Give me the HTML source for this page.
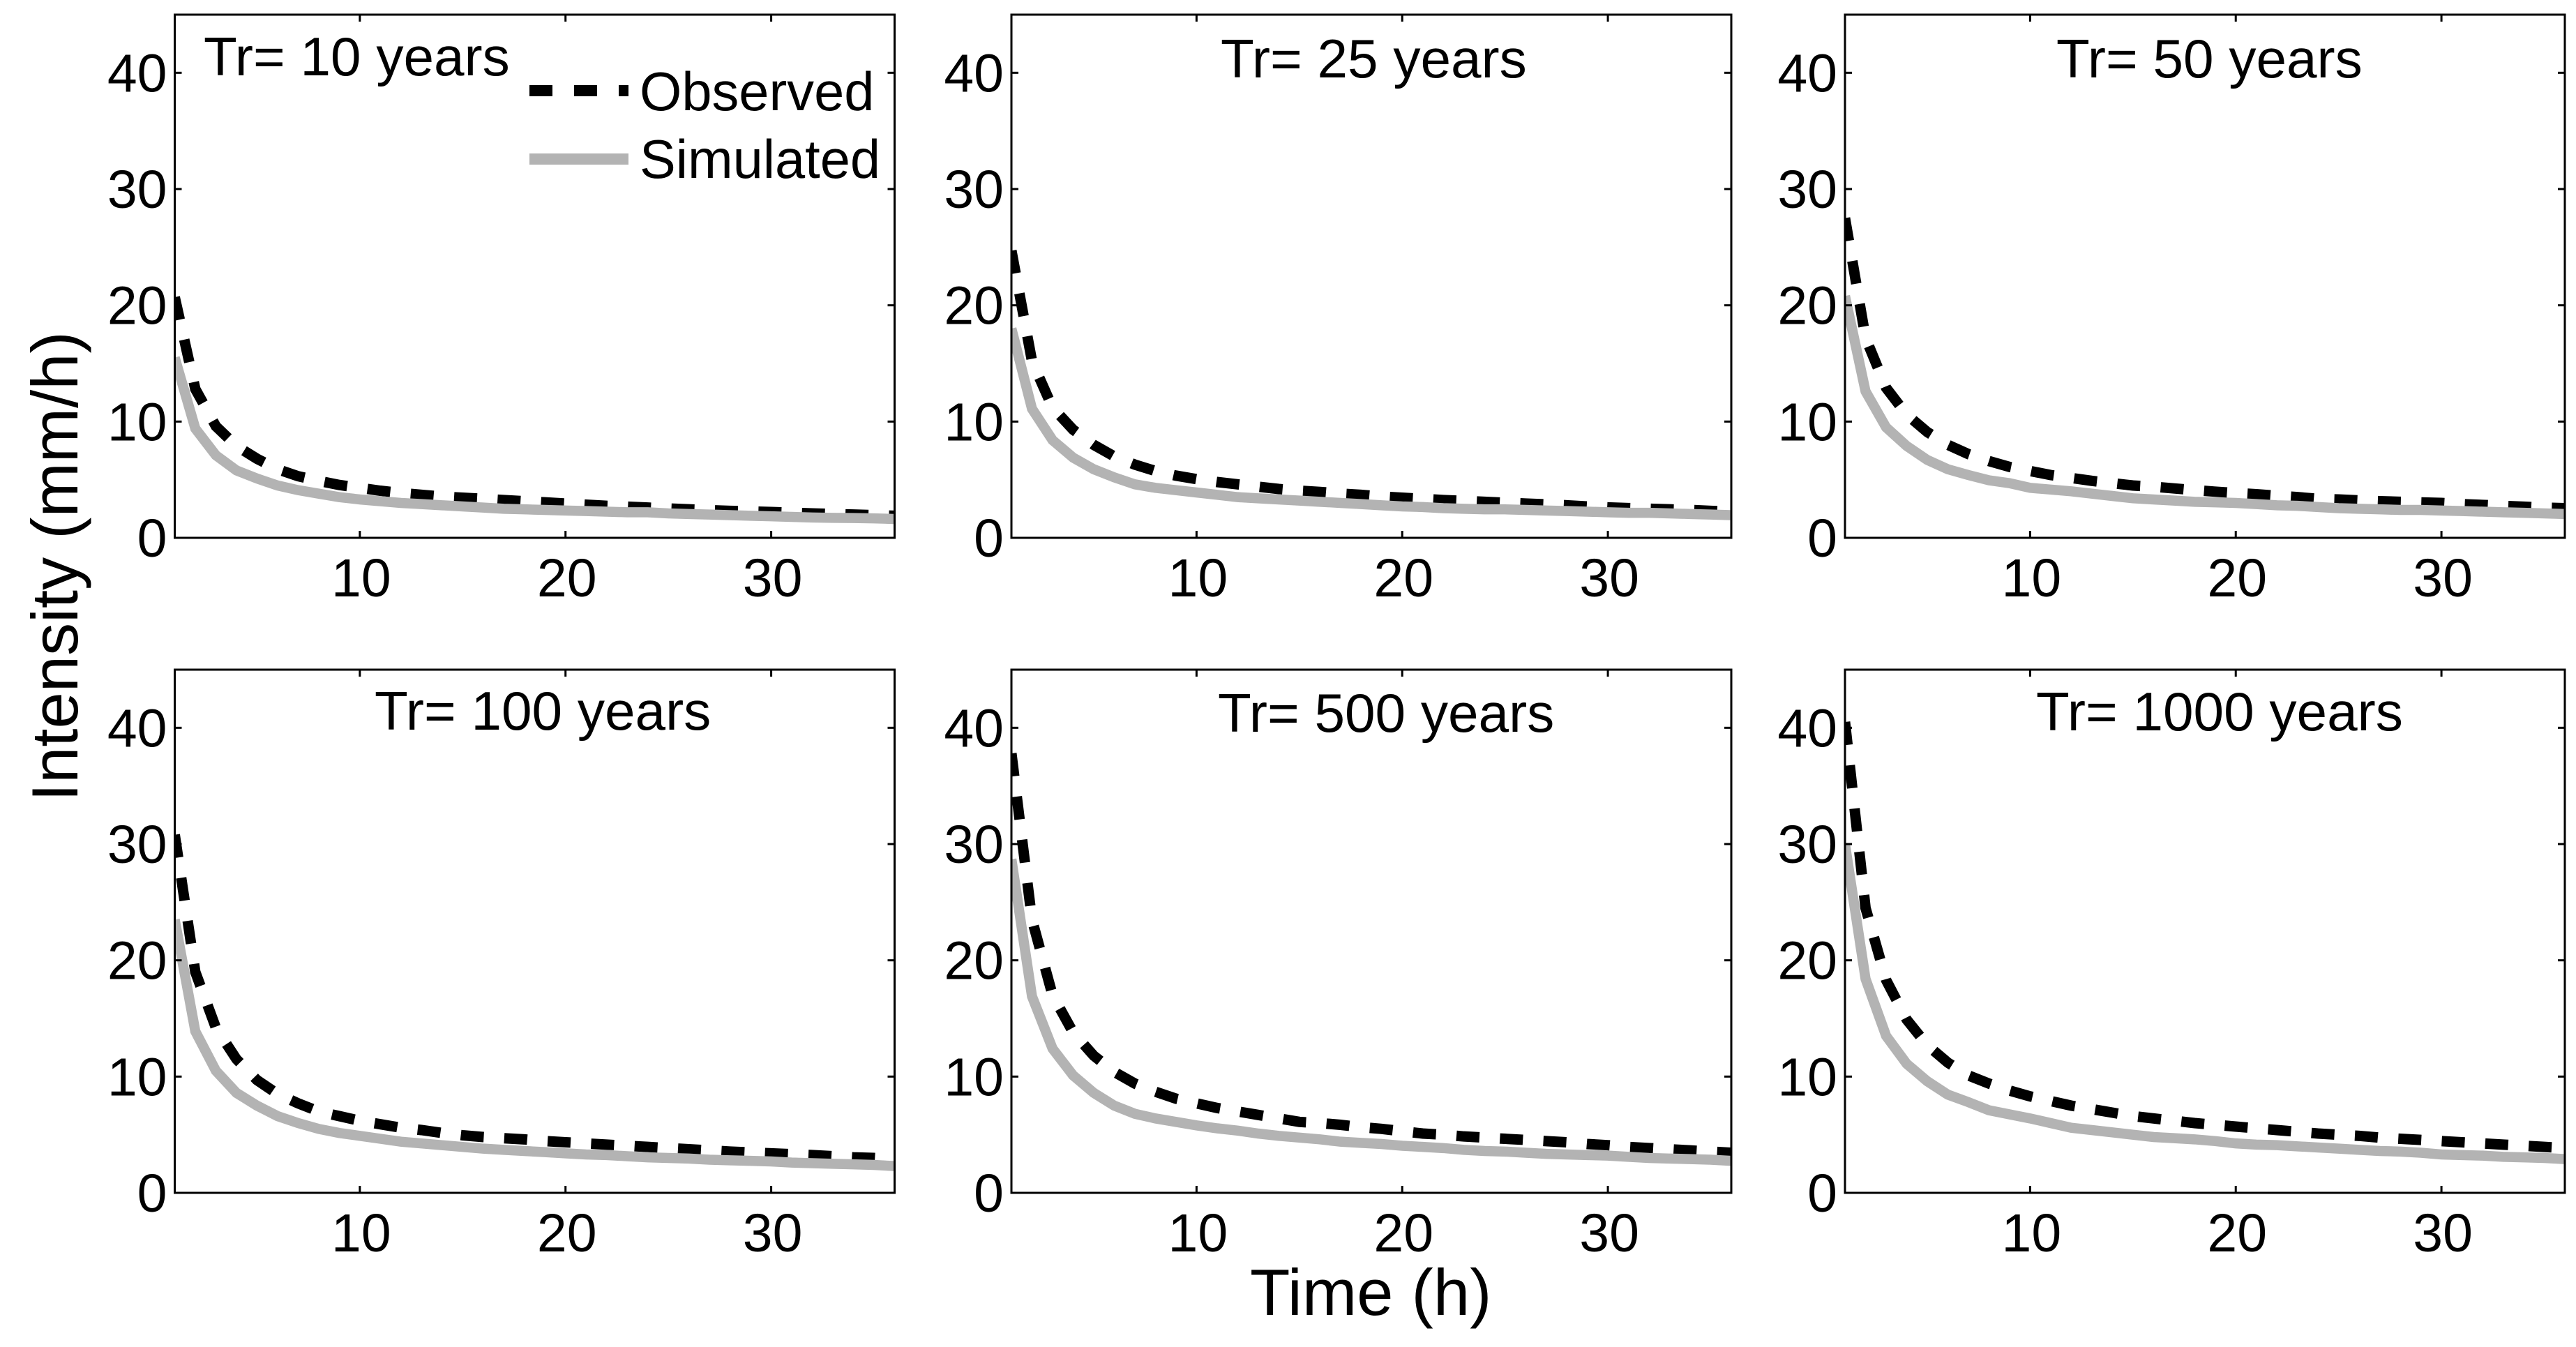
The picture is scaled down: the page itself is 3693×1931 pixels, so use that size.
<!DOCTYPE html>
<html lang="en">
<head>
<meta charset="utf-8">
<title>Observed and simulated rainfall intensity by return period</title>
<style>
html,body{margin:0;padding:0;background:#fff;}
svg{display:block;}
text{font-family:"Liberation Sans",Arial,sans-serif;fill:#000;}
.tick-label{font-size:77px;}
.panel-title{font-size:78.3px;}
.legend-label{font-size:77.6px;}
.axis-title{font-size:94px;}
</style>
</head>
<body>
<svg id="figure" xmlns="http://www.w3.org/2000/svg" width="3693" height="1931" viewBox="0 0 3693 1931">
  <rect x="0" y="0" width="3693" height="1931" fill="#ffffff"/>
  <defs>
    <clipPath id="plot-clip"><rect x="0" y="0" width="1032" height="750"/></clipPath>
  </defs>

  <g id="panel-tr10" transform="translate(250.5,21)"></g>
  <g id="panel-tr25" transform="translate(1450,21)"></g>
  <g id="panel-tr50" transform="translate(2645,21)"></g>
  <g id="panel-tr100" transform="translate(250.5,960)"></g>
  <g id="panel-tr500" transform="translate(1450,960)"></g>
  <g id="panel-tr1000" transform="translate(2645,960)"></g>

  <text class="panel-title" x="292" y="108">Tr= 10 years</text>
  <text class="panel-title" x="1750" y="111">Tr= 25 years</text>
  <text class="panel-title" x="2948" y="111">Tr= 50 years</text>
  <text class="panel-title" x="537" y="1046">Tr= 100 years</text>
  <text class="panel-title" x="1746" y="1049">Tr= 500 years</text>
  <text class="panel-title" x="2919" y="1047">Tr= 1000 years</text>

  <g>
    <line x1="759" x2="901" y1="130" y2="130" stroke="#000" stroke-width="16" stroke-dasharray="33 31"/>
    <text class="legend-label" x="917" y="158">Observed</text>
    <line x1="759" x2="901" y1="228" y2="228" stroke="#b3b3b3" stroke-width="16"/>
    <text class="legend-label" x="917" y="255">Simulated</text>
  </g>

  <text class="axis-title" transform="translate(111,1149) rotate(-90)">Intensity (mm/h)</text>
  <text class="axis-title" x="1792" y="1885">Time (h)</text>
</svg>

<script>
// Shared axis values
const timeHours = [1,2,3,4,5,6,7,8,9,10,11,12,13,14,15,16,17,18,19,20,21,22,23,24,25,26,27,28,29,30,31,32,33,34,35,36];
const xTickLabels = [10,20,30];
const yTickLabels = [0,10,20,30,40];

// Tr = 10 years
const observedTr10 = [20.7,12.8,9.6,7.9,6.8,5.9,5.3,4.9,4.55,4.3,4.05,3.85,3.7,3.55,3.45,3.35,3.25,3.15,3.05,2.95,2.85,2.75,2.68,2.6,2.52,2.45,2.38,2.32,2.27,2.22,2.16,2.1,2.05,2.0,1.95,1.9];
const simulatedTr10 = [15.5,9.4,7.1,5.8,5.1,4.5,4.1,3.8,3.5,3.3,3.15,3.0,2.9,2.8,2.7,2.6,2.5,2.45,2.4,2.35,2.3,2.25,2.2,2.2,2.1,2.05,2.0,1.95,1.9,1.85,1.8,1.75,1.72,1.7,1.67,1.62];

// Tr = 25 years
const observedTr25 = [24.7,15.2,11.2,9.3,8.0,7.0,6.3,5.75,5.35,5.05,4.8,4.6,4.4,4.2,4.05,3.95,3.8,3.7,3.55,3.45,3.35,3.25,3.18,3.1,3.02,2.95,2.88,2.8,2.7,2.62,2.56,2.5,2.45,2.4,2.32,2.25];
const simulatedTr25 = [18.0,11.1,8.4,6.9,5.9,5.2,4.6,4.3,4.1,3.9,3.7,3.5,3.4,3.3,3.2,3.1,3.0,2.9,2.8,2.7,2.65,2.55,2.5,2.45,2.45,2.4,2.35,2.3,2.25,2.2,2.15,2.15,2.1,2.05,2.0,1.95];

// Tr = 50 years
const observedTr50 = [27.5,17.2,12.9,10.6,9.1,8.0,7.2,6.6,6.1,5.75,5.4,5.15,4.9,4.7,4.5,4.4,4.25,4.1,3.97,3.85,3.75,3.62,3.5,3.35,3.3,3.22,3.15,3.1,3.05,3.0,2.9,2.83,2.75,2.68,2.6,2.55];
const simulatedTr50 = [20.8,12.6,9.5,7.9,6.7,5.9,5.4,4.95,4.7,4.3,4.15,4.0,3.8,3.6,3.4,3.3,3.2,3.1,3.05,3.0,2.9,2.8,2.75,2.65,2.55,2.5,2.45,2.4,2.4,2.35,2.3,2.25,2.2,2.15,2.1,2.05];

// Tr = 100 years
const observedTr100 = [30.8,19.0,14.2,11.5,9.7,8.5,7.7,7.0,6.6,6.2,5.9,5.6,5.4,5.15,4.95,4.8,4.7,4.6,4.45,4.35,4.25,4.15,4.05,3.95,3.85,3.75,3.65,3.55,3.47,3.4,3.32,3.25,3.15,3.05,3.0,2.9];
const simulatedTr100 = [23.5,13.9,10.5,8.6,7.5,6.6,6.0,5.5,5.15,4.9,4.65,4.4,4.25,4.1,3.95,3.8,3.7,3.6,3.5,3.4,3.3,3.25,3.15,3.05,3.0,2.95,2.85,2.8,2.75,2.7,2.6,2.55,2.5,2.45,2.4,2.3];

// Tr = 500 years
const observedTr500 = [37.8,23.5,17.0,13.8,11.8,10.4,9.4,8.7,8.1,7.7,7.3,7.0,6.7,6.4,6.1,6.0,5.85,5.65,5.5,5.3,5.1,5.0,4.85,4.75,4.65,4.55,4.45,4.35,4.2,4.1,3.95,3.85,3.75,3.65,3.55,3.45];
const simulatedTr500 = [28.7,16.9,12.4,10.1,8.6,7.5,6.8,6.4,6.1,5.8,5.55,5.35,5.1,4.9,4.75,4.6,4.4,4.3,4.2,4.05,3.95,3.85,3.7,3.6,3.55,3.45,3.35,3.3,3.25,3.2,3.1,3.0,2.95,2.9,2.85,2.75];

// Tr = 1000 years
const observedTr1000 = [40.5,24.5,18.3,14.9,12.7,11.2,10.1,9.4,8.8,8.3,7.9,7.5,7.2,6.9,6.6,6.4,6.2,6.0,5.85,5.7,5.55,5.4,5.25,5.1,5.0,4.9,4.75,4.65,4.55,4.45,4.35,4.25,4.15,4.05,3.95,3.85];
const simulatedTr1000 = [30.0,18.4,13.5,11.1,9.6,8.45,7.8,7.1,6.75,6.4,6.0,5.6,5.4,5.2,5.0,4.8,4.7,4.6,4.45,4.25,4.15,4.1,4.0,3.9,3.8,3.7,3.6,3.55,3.45,3.3,3.25,3.2,3.1,3.05,3.0,2.9];

const SVG_NS = 'http://www.w3.org/2000/svg';
const plotWidth = 1032;
const plotHeight = 750;
const xMin = 1;
const xMax = 36;
const yMin = 0;
const yMax = 45;

function xAxis(hours) {
  return (hours - xMin) / (xMax - xMin) * plotWidth;
}
function yAxis(intensity) {
  return plotHeight - (intensity - yMin) / (yMax - yMin) * plotHeight;
}
function pointsFor(values) {
  return values.map(function (v, i) {
    return xAxis(timeHours[i]).toFixed(2) + ',' + yAxis(v).toFixed(2);
  }).join(' ');
}
function addSeries(plot, values, name, color, dash, width) {
  const line = document.createElementNS(SVG_NS, 'polyline');
  
  
  line.setAttribute('points', pointsFor(values));
  line.setAttribute('fill', 'none');
  line.setAttribute('stroke', color);
  line.setAttribute('stroke-width', width);
  line.setAttribute('stroke-linejoin', 'miter');
  if (dash) line.setAttribute('stroke-dasharray', dash);
  plot.appendChild(line);
}
function addTick(panel, x1, y1, x2, y2) {
  const tick = document.createElementNS(SVG_NS, 'line');
  
  
  tick.setAttribute('x1', x1);
  tick.setAttribute('y1', y1);
  tick.setAttribute('x2', x2);
  tick.setAttribute('y2', y2);
  tick.setAttribute('stroke', '#000');
  tick.setAttribute('stroke-width', '3');
  panel.appendChild(tick);
}
function addTickLabel(panel, label, x, y, anchor) {
  const t = document.createElementNS(SVG_NS, 'text');
  
  
  t.setAttribute('class', 'tick-label');
  t.setAttribute('x', x);
  t.setAttribute('y', y);
  t.setAttribute('text-anchor', anchor);
  t.textContent = label;
  panel.appendChild(t);
}
function drawPanel(id, observed, simulated) {
  const panel = document.getElementById(id);

  const plot = document.createElementNS(SVG_NS, 'g');
  
  
  plot.setAttribute('clip-path', 'url(#plot-clip)');
  panel.appendChild(plot);
  addSeries(plot, observed, 'observed-line', '#000000', '33 29.4', '15');
  addSeries(plot, simulated, 'simulated-line', '#b3b3b3', null, '14.5');

  const frame = document.createElementNS(SVG_NS, 'rect');
  
  
  frame.setAttribute('x', 0);
  frame.setAttribute('y', 0);
  frame.setAttribute('width', plotWidth);
  frame.setAttribute('height', plotHeight);
  frame.setAttribute('fill', 'none');
  frame.setAttribute('stroke', '#000');
  frame.setAttribute('stroke-width', '3');
  panel.appendChild(frame);

  xTickLabels.forEach(function (v) {
    const x = xAxis(v);
    addTick(panel, x, plotHeight, x, plotHeight - 10);
    addTick(panel, x, 0, x, 10);
    addTickLabel(panel, v, x + 2, plotHeight + 84, 'middle');
  });
  yTickLabels.forEach(function (v) {
    const y = yAxis(v);
    addTick(panel, 0, y, 10, y);
    addTick(panel, plotWidth, y, plotWidth - 10, y);
    addTickLabel(panel, v, -11, y + 27, 'end');
  });
}

drawPanel('panel-tr10', observedTr10, simulatedTr10);
drawPanel('panel-tr25', observedTr25, simulatedTr25);
drawPanel('panel-tr50', observedTr50, simulatedTr50);
drawPanel('panel-tr100', observedTr100, simulatedTr100);
drawPanel('panel-tr500', observedTr500, simulatedTr500);
drawPanel('panel-tr1000', observedTr1000, simulatedTr1000);
</script>
</body>
</html>
